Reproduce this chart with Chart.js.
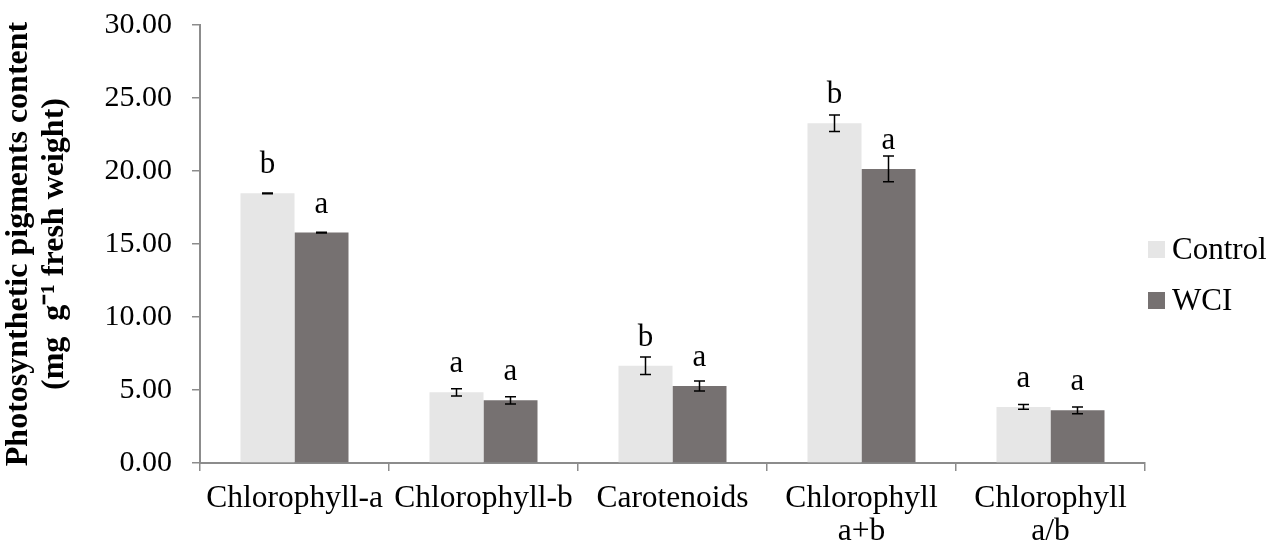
<!DOCTYPE html>
<html>
<head>
<meta charset="utf-8">
<title>Photosynthetic pigments content</title>
<script src="https://cdn.jsdelivr.net/npm/chart.js@4.4.1/dist/chart.umd.min.js"></script>
<style>
  html, body { margin: 0; padding: 0; background: #ffffff; }
  #wrap { width: 1279px; height: 550px; }
</style>
</head>
<body>
<div id="wrap"><canvas id="chart" width="1279" height="550"></canvas></div>
<script>
// Pigment categories (multi-line labels as arrays)
const categories = ['Chlorophyll-a', 'Chlorophyll-b', 'Carotenoids', ['Chlorophyll', 'a+b'], ['Chlorophyll', 'a/b']];

// Mean values (mg g-1 fresh weight)
const controlValues = [18.47, 4.84, 6.66, 23.27, 3.84];
const wciValues = [15.78, 4.29, 5.27, 20.14, 3.61];

// Standard errors
const controlErrors = [0.03, 0.25, 0.60, 0.56, 0.16];
const wciErrors = [0.03, 0.25, 0.34, 0.88, 0.23];

// Significance letters
const controlLetters = ['b', 'a', 'b', 'b', 'a'];
const wciLetters = ['a', 'a', 'a', 'a', 'a'];

// Y axis ticks
const yTicks = [0, 5, 10, 15, 20, 25, 30];

const seriesNames = ['Control', 'WCI'];
const seriesColors = ['#e6e6e6', '#767171'];

const FONT = "'Liberation Serif', 'Times New Roman', serif";
const AXIS_GRAY = '#8c8c8c';

// Error bars + significance letters drawn on top of each bar
const errorBarPlugin = {
  id: 'errorBars',
  afterDatasetsDraw(chart) {
    const ctx = chart.ctx;
    const y = chart.scales.y;
    const errs = [controlErrors, wciErrors];
    const letters = [controlLetters, wciLetters];
    chart.data.datasets.forEach((ds, di) => {
      const meta = chart.getDatasetMeta(di);
      meta.data.forEach((bar, i) => {
        const v = ds.data[i];
        const e = errs[di][i];
        const yTop = y.getPixelForValue(v + e);
        const yBot = y.getPixelForValue(v - e);
        ctx.save();
        ctx.strokeStyle = '#000000';
        ctx.lineWidth = 1.5;
        ctx.beginPath();
        ctx.moveTo(bar.x, yTop);
        ctx.lineTo(bar.x, yBot);
        ctx.moveTo(bar.x - 5.5, yTop);
        ctx.lineTo(bar.x + 5.5, yTop);
        ctx.moveTo(bar.x - 5.5, yBot);
        ctx.lineTo(bar.x + 5.5, yBot);
        ctx.stroke();
        ctx.fillStyle = '#000000';
        ctx.font = '31px ' + FONT;
        ctx.textAlign = 'center';
        ctx.textBaseline = 'alphabetic';
        ctx.fillText(letters[di][i], bar.x, y.getPixelForValue(v) - 20);
        ctx.restore();
      });
    });
  }
};

// Legend at the right side
const sideLegendPlugin = {
  id: 'sideLegend',
  afterDraw(chart) {
    const ctx = chart.ctx;
    const x0 = 1148;
    const tops = [241, 292];
    ctx.save();
    chart.data.datasets.forEach((ds, i) => {
      ctx.fillStyle = ds.backgroundColor;
      ctx.fillRect(x0, tops[i], 17, 17);
      ctx.fillStyle = '#000000';
      ctx.font = '31px ' + FONT;
      ctx.textAlign = 'left';
      ctx.textBaseline = 'alphabetic';
      ctx.fillText(ds.label, x0 + 24, tops[i] + 18);
    });
    ctx.restore();
  }
};

new Chart(document.getElementById('chart'), {
  type: 'bar',
  data: {
    labels: categories,
    datasets: [
      { label: seriesNames[0], data: controlValues, backgroundColor: seriesColors[0], borderWidth: 0 },
      { label: seriesNames[1], data: wciValues, backgroundColor: seriesColors[1], borderWidth: 0 }
    ]
  },
  options: {
    responsive: false,
    animation: false,
    devicePixelRatio: 1,
    layout: { padding: { top: 25, right: 134, bottom: 0, left: 0 } },
    datasets: { bar: { categoryPercentage: 2 / 3.5, barPercentage: 1.0 } },
    plugins: {
      legend: { display: false },
      tooltip: { enabled: false }
    },
    scales: {
      x: {
        offset: true,
        grid: { display: true, drawOnChartArea: false, offset: true, color: AXIS_GRAY, lineWidth: 1.5, tickLength: 8 },
        border: { display: true, color: AXIS_GRAY, width: 2 },
        ticks: {
          color: '#000000',
          font: { family: FONT, size: 31.5, lineHeight: 1.05 },
          padding: 11,
          maxRotation: 0,
          autoSkip: false
        },
        afterFit(scale) {
          scale.height = 87;
          scale.paddingLeft = 0;
          scale.paddingRight = 0;
        }
      },
      y: {
        min: 0,
        max: 30,
        afterBuildTicks(scale) { scale.ticks = yTicks.map(v => ({ value: v })); },
        grid: { display: true, drawOnChartArea: false, color: AXIS_GRAY, lineWidth: 1.5, tickLength: 8 },
        border: { display: true, color: AXIS_GRAY, width: 2 },
        ticks: {
          color: '#000000',
          font: { family: FONT, size: 30 },
          padding: 20,
          callback: (v) => Number(v).toFixed(2)
        },
        title: {
          display: true,
          text: ['Photosynthetic pigments content', '(mg  g\u207B\u00B9 fresh weight)'],
          color: '#000000',
          font: { family: FONT, size: 32, weight: 'bold', lineHeight: 1.15 },
          padding: { top: 0, bottom: 0 }
        },
        afterFit(scale) {
          scale.width = 200;
          scale.paddingTop = 0;
          scale.paddingBottom = 0;
        }
      }
    }
  },
  plugins: [errorBarPlugin, sideLegendPlugin]
});
</script>
</body>
</html>
